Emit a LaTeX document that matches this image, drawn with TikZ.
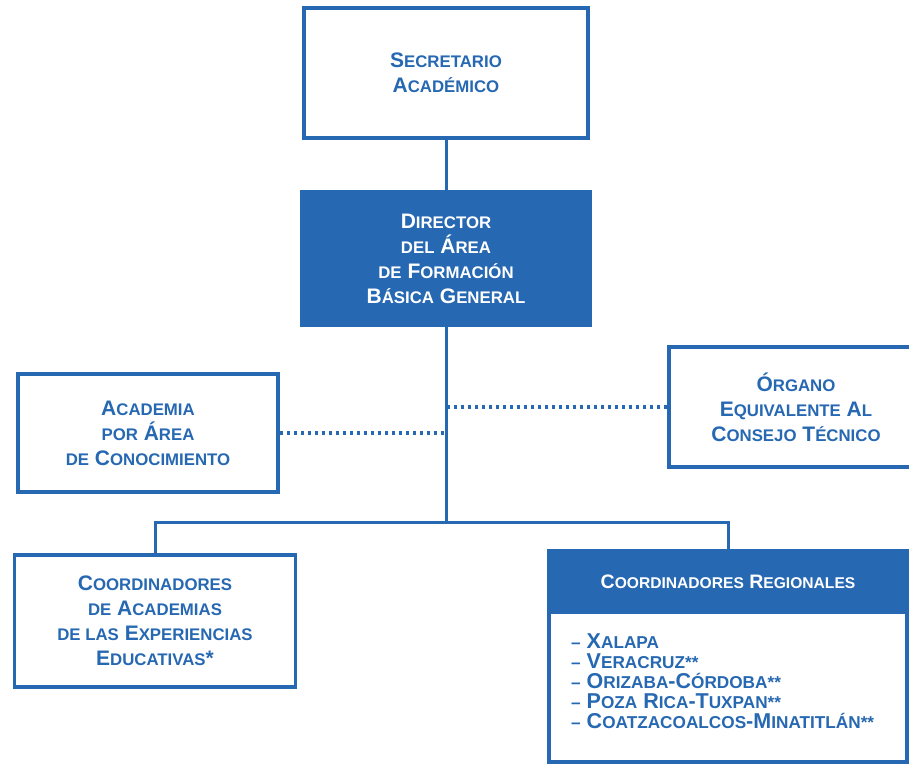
\documentclass[tikz,border=0pt]{standalone}
\usepackage{fontspec}
\setmainfont{Liberation Sans}
\definecolor{uvblue}{RGB}{38,104,178}
\makeatletter
\newcommand\lc[1]{{\fontsize{\fpeval{0.8*\f@size}}{\f@baselineskip}\selectfont #1}}
\makeatother

\begin{document}
\begin{tikzpicture}[x=1pt, y=-1pt,
  unit/.style={draw=uvblue, line width=3.5pt, fill=white, text=uvblue, align=center,
    inner sep=0pt, font=\bfseries\fontsize{21}{25}\selectfont},
  head/.style={unit, fill=uvblue, text=white},
  link/.style={draw=uvblue, line width=3pt},
  staff/.style={draw=uvblue, line width=3.5pt, dash pattern=on 3pt off 4pt}]

\useasboundingbox (0,0) rectangle (909,764);

% Nodes
\node (sec) [unit, minimum width=284pt, minimum height=130pt] at (446,73)
  {S\lc{ECRETARIO}\\A\lc{CADÉMICO}};
\node (dir) [head, minimum width=288pt, minimum height=133pt] at (446,258.5)
  {D\lc{IRECTOR}\\\lc{DEL} Á\lc{REA}\\\lc{DE} F\lc{ORMACIÓN}\\B\lc{ÁSICA} G\lc{ENERAL}};
\node (acad) [unit, minimum width=260pt, minimum height=118pt] at (148,433)
  {A\lc{CADEMIA}\\\lc{POR} Á\lc{REA}\\\lc{DE} C\lc{ONOCIMIENTO}};
\node (org) [unit, minimum width=254pt, minimum height=120pt] at (796,407)
  {Ó\lc{RGANO}\\E\lc{QUIVALENTE} A\lc{L}\\C\lc{ONSEJO} T\lc{ÉCNICO}};
\node (coord) [unit, minimum width=281pt, minimum height=132pt] at (155,621)
  {C\lc{OORDINADORES}\\\lc{DE} A\lc{CADEMIAS}\\\lc{DE LAS} E\lc{XPERIENCIAS}\\E\lc{DUCATIVAS}*};
\node (reg) [unit, minimum width=358pt, minimum height=211pt] at (728,656.5) {};
\node (regh) [head, minimum width=358pt, minimum height=61pt, anchor=north,
  font=\bfseries\fontsize{19.5}{22}\selectfont] at (reg.north)
  {C\lc{OORDINADORES} R\lc{EGIONALES}};
\node (regl) [anchor=west, text=uvblue, align=left, inner sep=0pt,
  font=\bfseries\fontsize{21.5}{20}\selectfont] at (571,681)
  {\lc{–} X\lc{ALAPA}\\
   \lc{–} V\lc{ERACRUZ**}\\
   \lc{–} O\lc{RIZABA}-C\lc{ÓRDOBA**}\\
   \lc{–} P\lc{OZA} R\lc{ICA}-T\lc{UXPAN**}\\
   \lc{–} C\lc{OATZACOALCOS}-M\lc{INATITLÁN**}};

% Lines
\coordinate (bus) at (446,522);
\draw[link] (sec.south) -- (dir.north);
\draw[link] (dir.south) -- (bus);
\draw[link] (coord.north) |- (bus) -| (reg.north);
\draw[staff] (acad.east) -- (acad.east -| dir.south);
\draw[staff] (org.west) -- (org.west -| dir.south);

\end{tikzpicture}
\end{document}
